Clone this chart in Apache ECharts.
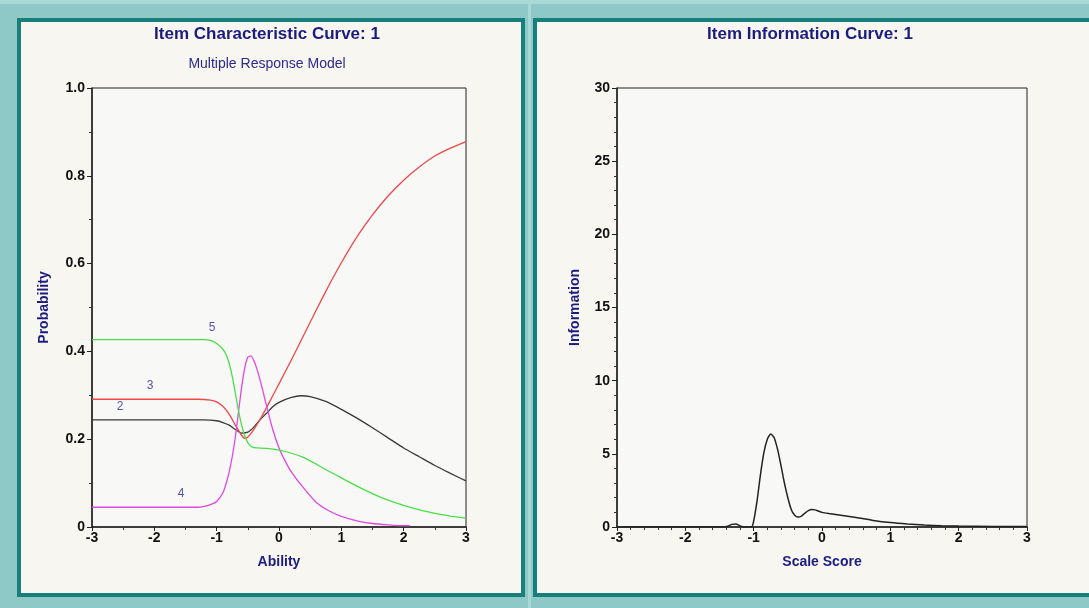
<!DOCTYPE html>
<html><head><meta charset="utf-8">
<script src="https://cdn.jsdelivr.net/npm/echarts@6/dist/echarts.min.js"></script>
<style>html,body{margin:0;padding:0;background:#8ec9c7;}#c{width:1089px;height:608px;}</style>
</head><body><div id="c"></div>
<script>
// ---- Data ----
const xTicks = [-3, -2, -1, 0, 1, 2, 3];
const cat2 = [[-3,0.244],[-1.2,0.244],[-1.0,0.242],[-0.9,0.238],[-0.8,0.232],[-0.7,0.222],[-0.6,0.214],[-0.5,0.216],[-0.4,0.228],[-0.3,0.245],[-0.2,0.259],[-0.1,0.274],[0,0.284],[0.2,0.295],[0.35,0.299],[0.5,0.297],[0.75,0.286],[1.0,0.268],[1.25,0.248],[1.5,0.226],[1.75,0.203],[2.0,0.18],[2.25,0.16],[2.5,0.14],[2.75,0.122],[3,0.105]];
const cat3 = [[-3,0.291],[-1.3,0.291],[-1.1,0.289],[-1.0,0.285],[-0.9,0.275],[-0.8,0.257],[-0.7,0.232],[-0.6,0.209],[-0.55,0.202],[-0.5,0.205],[-0.4,0.223],[-0.3,0.246],[-0.2,0.272],[-0.1,0.299],[0,0.326],[0.2,0.381],[0.4,0.438],[0.6,0.495],[0.8,0.550],[1.0,0.602],[1.25,0.661],[1.5,0.711],[1.75,0.754],[2.0,0.790],[2.25,0.820],[2.5,0.845],[2.75,0.863],[3,0.878]];
const cat4 = [[-3,0.045],[-1.3,0.045],[-1.2,0.047],[-1.1,0.051],[-1.0,0.058],[-0.9,0.078],[-0.85,0.098],[-0.8,0.125],[-0.75,0.16],[-0.7,0.205],[-0.65,0.262],[-0.6,0.318],[-0.55,0.362],[-0.5,0.387],[-0.45,0.390],[-0.4,0.378],[-0.35,0.358],[-0.3,0.333],[-0.25,0.305],[-0.2,0.276],[-0.1,0.222],[0,0.180],[0.1,0.150],[0.2,0.125],[0.4,0.088],[0.6,0.056],[0.8,0.037],[1.0,0.024],[1.25,0.014],[1.5,0.008],[1.75,0.005],[2.0,0.003],[2.1,0.003]];
const cat5 = [[-3,0.427],[-1.2,0.427],[-1.1,0.425],[-1.0,0.418],[-0.9,0.405],[-0.85,0.393],[-0.8,0.373],[-0.75,0.343],[-0.7,0.305],[-0.65,0.265],[-0.6,0.232],[-0.55,0.208],[-0.5,0.192],[-0.45,0.184],[-0.4,0.181],[-0.2,0.179],[0,0.175],[0.2,0.168],[0.4,0.158],[0.6,0.143],[0.8,0.127],[1.0,0.112],[1.25,0.093],[1.5,0.076],[1.75,0.061],[2.0,0.049],[2.25,0.039],[2.5,0.031],[2.75,0.025],[3,0.02]];
const curveLabels = [[-2.55,0.275,'2'],[-2.07,0.323,'3'],[-1.57,0.077,'4'],[-1.075,0.455,'5']];
const info = [[-3,0],[-1.45,0],[-1.38,0.05],[-1.32,0.18],[-1.26,0.2],[-1.2,0.08],[-1.14,0],[-1.03,0],[-1.0,0.4],[-0.95,1.8],[-0.9,3.6],[-0.85,5.1],[-0.8,6.0],[-0.75,6.35],[-0.7,6.1],[-0.65,5.3],[-0.6,4.2],[-0.55,3.0],[-0.5,2.0],[-0.45,1.2],[-0.4,0.8],[-0.35,0.68],[-0.3,0.75],[-0.25,0.95],[-0.2,1.12],[-0.15,1.2],[-0.1,1.17],[-0.05,1.08],[0,1.0],[0.1,0.92],[0.25,0.82],[0.5,0.65],[0.75,0.45],[1.0,0.3],[1.25,0.2],[1.5,0.13],[1.75,0.09],[2.0,0.06],[2.5,0.04],[3,0.03]];
const titles = ['Item Characteristic Curve: 1', 'Multiple Response Model', 'Item Information Curve: 1'];

// ---- Chart ----
const FONT = '"Liberation Sans", Arial, sans-serif';
const NAVY = '#1c1c80';
const chart = echarts.init(document.getElementById('c'), null, {renderer: 'canvas'});
function xAxisCfg(gi, name, minorSplit) {
  return {
    type: 'value', gridIndex: gi, min: -3, max: 3, interval: 1,
    name: name, nameLocation: 'middle', nameGap: 28,
    nameTextStyle: {color: NAVY, fontWeight: 'bold', fontSize: 14, fontFamily: FONT},
    axisLine: {show: true, onZero: false, lineStyle: {color: '#222', width: 1.5}},
    axisTick: {show: true, length: 4, lineStyle: {color: '#222'}},
    minorTick: {show: true, splitNumber: minorSplit, length: 3, lineStyle: {color: '#333'}},
    splitLine: {show: false},
    axisLabel: {color: '#111', fontWeight: 'bold', fontSize: 14, fontFamily: FONT, margin: 4},
  };
}
function yAxisCfg(gi, name, max, interval, minorSplit, fmt, gap) {
  return {
    type: 'value', gridIndex: gi, min: 0, max: max, interval: interval,
    name: name, nameLocation: 'middle', nameGap: gap,
    nameTextStyle: {color: NAVY, fontWeight: 'bold', fontSize: 14, fontFamily: FONT},
    axisLine: {show: true, onZero: false, lineStyle: {color: '#222', width: 1.5}},
    axisTick: {show: true, length: 5, lineStyle: {color: '#222'}},
    minorTick: {show: true, splitNumber: minorSplit, length: 3, lineStyle: {color: '#333'}},
    splitLine: {show: false},
    axisLabel: {color: '#111', fontWeight: 'bold', fontSize: 14, fontFamily: FONT, margin: 7, formatter: fmt},
  };
}
function line(name, data, color, xi, yi, w) {
  return {type: 'line', name: name, data: data, xAxisIndex: xi, yAxisIndex: yi,
    showSymbol: false, symbol: 'none', smooth: 0.2,
    lineStyle: {color: color, width: w || 1.3}, itemStyle: {color: color}, silent: true};
}
const option = {
  animation: false,
  backgroundColor: '#8ec9c7',
  graphic: [
    {type: 'rect', z: -10, shape: {x: 0, y: 0, width: 1089, height: 4}, style: {fill: '#a9d8d6'}},
    {type: 'rect', z: -10, shape: {x: 528, y: 0, width: 3, height: 608}, style: {fill: '#a9d8d6'}},
    {type: 'rect', z: -9, shape: {x: 19, y: 20, width: 504, height: 575}, style: {fill: '#f7f6f1', stroke: '#17807c', lineWidth: 4}},
    {type: 'rect', z: -9, shape: {x: 535, y: 20, width: 570, height: 575}, style: {fill: '#f7f6f1', stroke: '#17807c', lineWidth: 4}}
  ],
  title: [
    {text: titles[0], left: 262, top: 21, textAlign: 'center', textStyle: {color: NAVY, fontWeight: 'bold', fontSize: 17, fontFamily: FONT}},
    {text: titles[1], left: 262, top: 52, textAlign: 'center', textStyle: {color: '#2a2a90', fontWeight: 'normal', fontSize: 14, fontFamily: FONT}},
    {text: titles[2], left: 805, top: 21, textAlign: 'center', textStyle: {color: NAVY, fontWeight: 'bold', fontSize: 17, fontFamily: FONT}}
  ],
  grid: [
    {left: 92, top: 88, width: 374, height: 439, show: true, backgroundColor: '#f8f8f7', borderColor: '#222', borderWidth: 1},
    {left: 617, top: 88, width: 410, height: 439, show: true, backgroundColor: '#f8f8f7', borderColor: '#222', borderWidth: 1}
  ],
  xAxis: [xAxisCfg(0, 'Ability', 2), xAxisCfg(1, 'Scale Score', 5)],
  yAxis: [
    yAxisCfg(0, 'Probability', 1, 0.2, 2, v => v === 0 ? '0' : v.toFixed(1), 41),
    yAxisCfg(1, 'Information', 30, 5, 5, v => String(v), 35)
  ],
  series: [
    line('2', cat2, '#3a3a3a', 0, 0),
    line('3', cat3, '#f04848', 0, 0),
    line('4', cat4, '#e048e0', 0, 0),
    line('5', cat5, '#48e048', 0, 0),
    {type: 'scatter', xAxisIndex: 0, yAxisIndex: 0, symbolSize: 0, silent: true,
      data: curveLabels.map(d => ({value: [d[0], d[1]], name: d[2]})),
      label: {show: true, position: 'inside', formatter: p => p.name, color: '#2a2a90', fontSize: 12, fontFamily: FONT}},
    line('Information', info, '#222', 1, 1, 1.5)
  ]
};
chart.setOption(option);
</script></body></html>
